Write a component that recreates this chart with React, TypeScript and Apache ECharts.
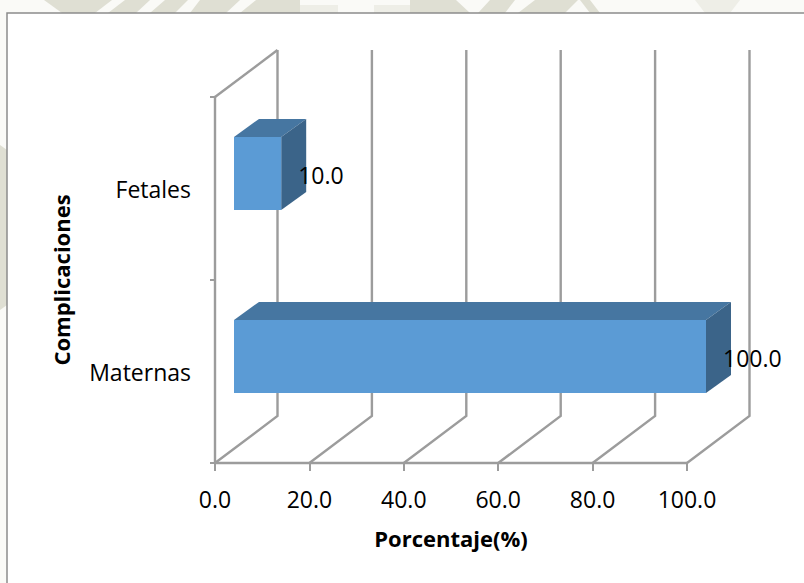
import React, { useEffect, useRef } from "react";
import * as echarts from "echarts";

const categories = ["Maternas", "Fetales"];
const values = [100, 10];
const xTicks = [0, 20, 40, 60, 80, 100];
const xTitle = "Porcentaje(%)";
const yTitle = "Complicaciones";

const FONT = "'Open Sans', 'Noto Sans', sans-serif";
const WALL = "#9c9c9c";
const DX = 62.5, DY = -47; // depth of the 3D box
const BAR_OFF_X = 19, BAR_OFF_Y = -15, BAR_DX = 25, BAR_DY = -18;

function wallItem(params: any, api: any) {
  const v = api.value(0);
  const [x] = api.coord([v, 0]);
  const cs = params.coordSys;
  const bottom = cs.y + cs.height;
  const top = cs.y;
  const children: any[] = [
    { type: "polyline", shape: { points: [[x, bottom], [x + DX, bottom + DY], [x + DX, top + DY]] },
      style: { stroke: WALL, lineWidth: 2.4, fill: "none" }, silent: true },
  ];
  if (v === 0) {
    children.push({ type: "line", shape: { x1: x, y1: top, x2: x + DX, y2: top + DY },
      style: { stroke: WALL, lineWidth: 2.4 }, silent: true });
  }
  return { type: "group", children };
}

function barItem(_: any, api: any) {
  const idx = api.value(0);
  const val = api.value(1);
  const start = api.coord([0, idx]);
  const end = api.coord([val, idx]);
  const h = api.size([0, 1])[1] * 0.4;
  const x0 = start[0] + BAR_OFF_X;
  const x1 = end[0] + BAR_OFF_X;
  const y0 = start[1] + BAR_OFF_Y - h / 2;
  const y1 = y0 + h;
  return {
    type: "group",
    children: [
      { type: "polygon", shape: { points: [[x0, y0], [x1, y0], [x1 + BAR_DX, y0 + BAR_DY], [x0 + BAR_DX, y0 + BAR_DY]] },
        style: { fill: "#4676a1" } },
      { type: "polygon", shape: { points: [[x1, y0], [x1 + BAR_DX, y0 + BAR_DY], [x1 + BAR_DX, y1 + BAR_DY], [x1, y1]] },
        style: { fill: "#3b6489" } },
      { type: "rect", shape: { x: x0, y: y0, width: x1 - x0, height: h }, style: { fill: "#5b9bd5" } },
      { type: "text", x: x1 + 17, y: (y0 + y1) / 2 + 1,
        style: { text: val.toFixed(1), fill: "#000", font: `23px ${FONT}`, align: "left", verticalAlign: "middle" } },
    ],
  };
}

const wm = "#dfdfd3";
const wmLight = "#eeeee7";
const watermark = [
  { pts: [[44, 0], [62, 13], [95, 13], [112, 0]], fill: wm },
  { pts: [[125, 0], [108, 13], [136, 13], [150, 0]], fill: wm },
  { pts: [[165, 0], [150, 13], [175, 13], [188, 0]], fill: wm },
  { pts: [[200, 0], [190, 13], [226, 13], [240, 0]], fill: wm },
  { pts: [[256, 0], [240, 13], [300, 13], [300, 0]], fill: wm },
  { pts: [[300, 5], [300, 13], [338, 13], [338, 5]], fill: wmLight },
  { pts: [[374, 5], [374, 13], [410, 13], [410, 5]], fill: wmLight },
  { pts: [[410, 0], [410, 13], [470, 13], [456, 0]], fill: wm },
  { pts: [[490, 0], [478, 13], [505, 13], [515, 0]], fill: wm },
  { pts: [[535, 0], [518, 13], [565, 13], [578, 0]], fill: wm },
  { pts: [[580, 0], [590, 13], [600, 13], [590, 0]], fill: wm },
  { pts: [[695, 0], [705, 13], [730, 13], [740, 0]], fill: wmLight },
  { pts: [[0, 145], [7, 150], [7, 305], [0, 310]], fill: wm },
];

export default function App() {
  const ref = useRef<HTMLDivElement>(null);
  useEffect(() => {
    const chart = echarts.init(ref.current!, undefined, { renderer: "svg" });
    chart.setOption({
      animation: false,
      backgroundColor: "#fafaf7",
      graphic: {
        elements: [
          ...watermark.map((w) => ({
            type: "polygon", z: -10, silent: true, shape: { points: w.pts }, style: { fill: w.fill },
          })),
          { type: "rect", z: -9, silent: true,
            shape: { x: 7, y: 13, width: 800, height: 575 },
            style: { fill: "#ffffff", stroke: "#8c8c8c", lineWidth: 1.5 } },
        ],
      },
      grid: { left: 215, top: 97, width: 472, height: 366 },
      xAxis: {
        type: "value", min: 0, max: 100, interval: 20,
        name: xTitle, nameLocation: "middle", nameGap: 64,
        nameTextStyle: { fontFamily: FONT, fontWeight: "bold", fontSize: 22, color: "#000" },
        axisLine: { show: true, lineStyle: { color: WALL, width: 2.4 } },
        axisTick: { show: true, length: 8, lineStyle: { color: WALL, width: 2 } },
        axisLabel: { fontFamily: FONT, fontSize: 23, color: "#000", margin: 24, formatter: (v: number) => v.toFixed(1), customValues: xTicks, showMinLabel: true, showMaxLabel: true },
        splitLine: { show: false },
      },
      yAxis: {
        type: "category", data: categories,
        name: yTitle, nameLocation: "middle", nameGap: 143,
        nameTextStyle: { fontFamily: FONT, fontWeight: "bold", fontSize: 22, color: "#000" },
        axisLine: { show: true, lineStyle: { color: WALL, width: 2.4 } },
        axisTick: { show: true, length: 5, lineStyle: { color: WALL, width: 2 } },
        axisLabel: { fontFamily: FONT, fontSize: 23, color: "#000", margin: 24, padding: [4, 0, 0, 0] },
      },
      series: [
        { type: "custom", coordinateSystem: "cartesian2d", renderItem: wallItem, silent: true, z: 1,
          encode: { x: 0 }, data: xTicks.map((t) => [t]) },
        { type: "custom", coordinateSystem: "cartesian2d", renderItem: barItem, silent: true, z: 5,
          encode: { y: 0, x: 1 }, data: values.map((v, i) => [i, v]) },
      ],
    });
    return () => chart.dispose();
  }, []);
  return <div ref={ref} style={{ position: "fixed", left: 0, top: 0, width: 804, height: 583 }} />;
}
